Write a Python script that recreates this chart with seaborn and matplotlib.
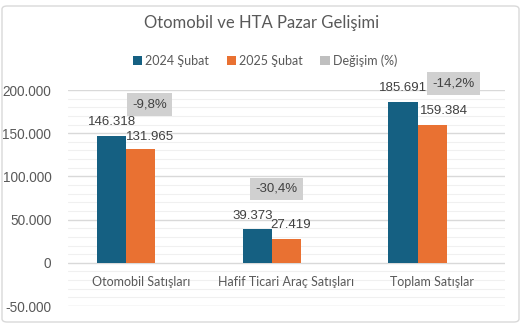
import matplotlib
matplotlib.use("Agg")
import matplotlib.pyplot as plt
import seaborn as sns
import pandas as pd
from matplotlib.patches import FancyBboxPatch
from matplotlib.ticker import MultipleLocator, FuncFormatter

categories = ["Otomobil Satışları", "Hafif Ticari Araç Satışları", "Toplam Satışlar"]
series_names = ["2024 Şubat", "2025 Şubat", "Değişim (%)"]
sales_2024 = [146318, 39373, 185691]
sales_2025 = [131965, 27419, 159384]
change_pct = [-9.8, -30.4, -14.2]
value_labels_2024 = ["146.318", "39.373", "185.691"]
value_labels_2025 = ["131.965", "27.419", "159.384"]
pct_labels = ["-9,8%", "-30,4%", "-14,2%"]
title = "Otomobil ve HTA Pazar Gelişimi"

colors = ["#156082", "#E97132", "#BFBFBF"]
NUMFONT = ["Liberation Sans", "DejaVu Sans"]

sns.set_theme(style="white")
plt.rcParams['font.family'] = ['Lato', 'DejaVu Sans']

rows = []
for i, c in enumerate(categories):
    rows.append((c, series_names[0], sales_2024[i]))
    rows.append((c, series_names[1], sales_2025[i]))
    rows.append((c, series_names[2], 0.0))  # percentage series shown as labels only
df = pd.DataFrame(rows, columns=["Kategori", "Seri", "Değer"])

fig = plt.figure(figsize=(5.23, 3.24), dpi=100)
fig.patch.set_facecolor("white")
ax = fig.add_axes([68/523, 1-306/324, (505-68)/523, (306-90)/324])

sns.barplot(data=df, x="Kategori", y="Değer", hue="Seri", hue_order=series_names,
            palette=colors, width=0.6, ax=ax, legend=True, saturation=1, linewidth=0,
            edgecolor="none")

ax.set_ylim(-50000, 200000)
ax.set_xlim(-0.5, 2.5)
ax.yaxis.set_major_locator(MultipleLocator(50000))
ax.yaxis.set_major_formatter(FuncFormatter(lambda v, p: f"{int(v):,}".replace(",", ".")))
# grid lines: major and minor
for v in range(-50000, 200001, 10000):
    if v % 50000 == 0:
        ax.axhline(v, color="#D9D9D9", linewidth=1.0, zorder=0)
    else:
        ax.axhline(v, color="#F0F0F0", linewidth=0.8, zorder=0)
for s in ["top", "right", "left", "bottom"]:
    ax.spines[s].set_visible(False)
ax.tick_params(axis="both", which="both", length=0, colors="#595959")
ax.tick_params(axis="y", pad=12, labelsize=9.8)
for lbl in ax.get_yticklabels():
    lbl.set_fontfamily(NUMFONT)
ax.set_xticks(range(len(categories)))
ax.set_xticklabels([])
ax.set_xlabel("")
ax.set_ylabel("")

for i, c in enumerate(categories):
    ax.annotate(c, (i, 0), xytext=(0, -19), textcoords="offset pixels", ha="center",
                va="center", fontsize=9, color="#595959", zorder=5)

# value labels
c24 = ax.containers[0]
c25 = ax.containers[1]
dx24 = [0, -5, 0]
dy24 = [14, 13, 14]
dx25 = [9, 4, 12]
dy25 = [12, 14, 14]
for i, bar in enumerate(c24.patches):
    ax.annotate(value_labels_2024[i], (bar.get_x() + bar.get_width()/2, bar.get_height()),
                xytext=(dx24[i], dy24[i]), textcoords="offset pixels", ha="center", va="center",
                fontsize=9.5, color="#404040", family=NUMFONT)
for i, bar in enumerate(c25.patches):
    ax.annotate(value_labels_2025[i], (bar.get_x() + bar.get_width()/2, bar.get_height()),
                xytext=(dx25[i], dy25[i]), textcoords="offset pixels", ha="center", va="center",
                fontsize=9.5, color="#404040", family=NUMFONT)

# percentage labels in grey boxes
pdx = [9, -10, 21]
pdy = [32, 40, 19]
for i, bar in enumerate(c24.patches):
    ax.annotate(pct_labels[i], (i, bar.get_height()),
                xytext=(pdx[i], pdy[i]), textcoords="offset pixels", ha="center", va="center",
                fontsize=9.5, color="#404040", family=NUMFONT,
                bbox=dict(boxstyle="square,pad=0.4", fc="#D0D0D0", ec="none"))

# legend
handles = ax.get_legend().legend_handles
ax.get_legend().remove()
leg = fig.legend(handles=handles, labels=series_names,
                 loc="center", bbox_to_anchor=(265/523, 1-61/324), ncol=3,
                 frameon=False, fontsize=9, handlelength=0.75, handleheight=0.75,
                 columnspacing=1.4, handletextpad=0.25, labelcolor="#595959")

fig.text(262/523, 1-23/324, title, ha="center", va="center", fontsize=12, color="#595959")

frame = FancyBboxPatch((2/523, 2/324), 517/523, 316/324, boxstyle="round,pad=0,rounding_size=0.01",
                       transform=fig.transFigure, fill=False, ec="#D9D9D9", lw=1.0)
fig.patches.append(frame)

fig.savefig("out.png", dpi=100)
